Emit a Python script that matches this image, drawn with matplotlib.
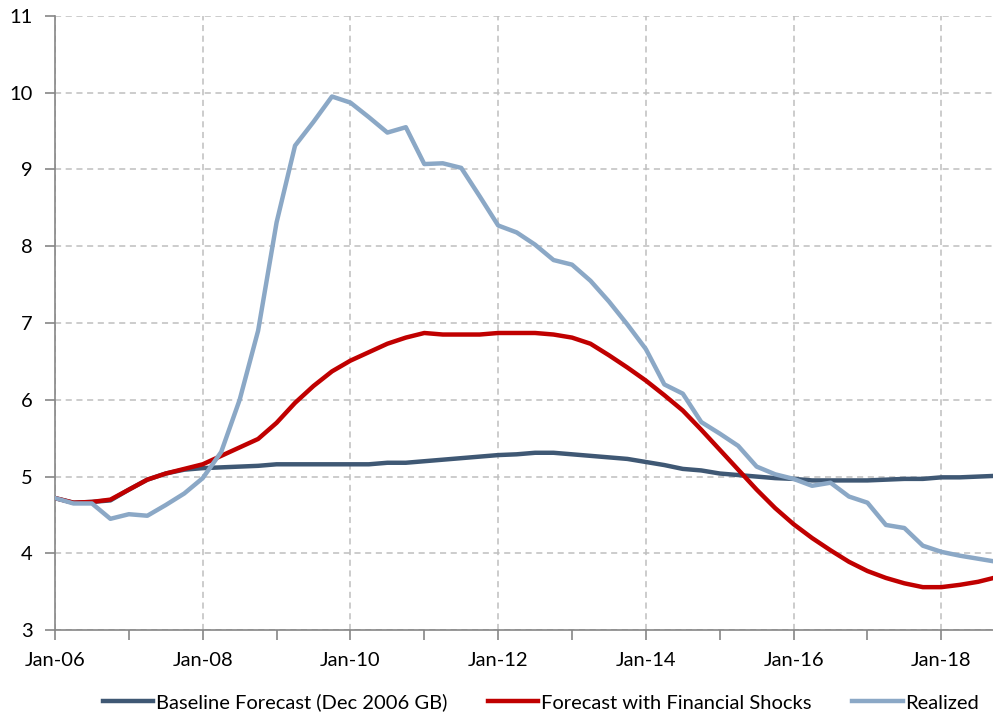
import numpy as np
import matplotlib.pyplot as plt

# quarterly observations, Jan-06 onwards
quarters = np.arange(52)

baseline = [4.72, 4.66, 4.67, 4.69, 4.83, 4.96, 5.04, 5.09, 5.11, 5.12,
            5.13, 5.14, 5.16, 5.16, 5.16, 5.16, 5.16, 5.16, 5.18, 5.18,
            5.20, 5.22, 5.24, 5.26, 5.28, 5.29, 5.31, 5.31, 5.29, 5.27,
            5.25, 5.23, 5.19, 5.15, 5.10, 5.08, 5.04, 5.02, 5.00, 4.98,
            4.97, 4.95, 4.95, 4.95, 4.95, 4.96, 4.97, 4.97, 4.99, 4.99,
            5.00, 5.01]

shocks = [4.72, 4.66, 4.67, 4.70, 4.83, 4.96, 5.04, 5.10, 5.16, 5.27,
          5.38, 5.49, 5.70, 5.96, 6.18, 6.37, 6.51, 6.62, 6.73, 6.81,
          6.87, 6.85, 6.85, 6.85, 6.87, 6.87, 6.87, 6.85, 6.81, 6.73,
          6.58, 6.42, 6.25, 6.06, 5.86, 5.61, 5.35, 5.09, 4.83, 4.59,
          4.38, 4.20, 4.04, 3.89, 3.77, 3.68, 3.61, 3.56, 3.56, 3.59,
          3.63, 3.69]

realized = [4.72, 4.65, 4.65, 4.45, 4.51, 4.49, 4.63, 4.78, 4.98, 5.32,
            6.00, 6.90, 8.31, 9.31, 9.62, 9.95, 9.87, 9.68, 9.48, 9.55,
            9.07, 9.08, 9.02, 8.65, 8.27, 8.18, 8.02, 7.82, 7.76, 7.55,
            7.28, 6.98, 6.66, 6.20, 6.08, 5.71, 5.56, 5.40, 5.13, 5.03,
            4.97, 4.88, 4.92, 4.74, 4.66, 4.37, 4.33, 4.10, 4.02, 3.97,
            3.93, 3.89]

tick_labels = ['Jan-06', 'Jan-08', 'Jan-10', 'Jan-12', 'Jan-14', 'Jan-16', 'Jan-18']

plt.rcParams['font.family'] = ['Lato', 'DejaVu Sans']

fig = plt.figure(figsize=(9.93, 7.21), dpi=100)
ax = fig.add_axes([0.0554, 0.126, 0.9446, 0.852])

ax.plot(quarters, baseline, color='#3F5874', lw=3.2, label='Baseline Forecast (Dec 2006 GB)', zorder=3)
ax.plot(quarters, shocks, color='#C00000', lw=3.2, label='Forecast with Financial Shocks', zorder=4)
ax.plot(quarters, realized, color='#8BA8C6', lw=3.2, label='Realized', zorder=5)

ax.set_xlim(0, 50.8)
ax.set_ylim(3, 11)
ax.set_xticks(np.arange(0, 49, 8))
ax.set_xticklabels(tick_labels)
ax.set_xticks(np.arange(4, 49, 8), minor=True)
ax.set_yticks(np.arange(3, 12, 1))

for s in ['top', 'right']:
    ax.spines[s].set_visible(False)
for s in ['left', 'bottom']:
    ax.spines[s].set_color('#868686')
    ax.spines[s].set_linewidth(1.2)

ax.tick_params(axis='both', which='both', direction='out', length=7, width=1.2,
               color='#868686', labelsize=14.5, labelcolor='black')
ax.tick_params(axis='x', pad=9)
ax.tick_params(axis='y', pad=9)

ax.grid(True, which='major', color='#BFBFBF', linestyle=(0, (4, 3)), linewidth=1.1)
ax.set_axisbelow(True)

fig.legend(loc='lower center', bbox_to_anchor=(0.545, -0.012), ncol=3, frameon=False,
           fontsize=14.5, handlelength=2.5, columnspacing=2.0, handletextpad=0.15)

fig.savefig('out.png', dpi=100)
